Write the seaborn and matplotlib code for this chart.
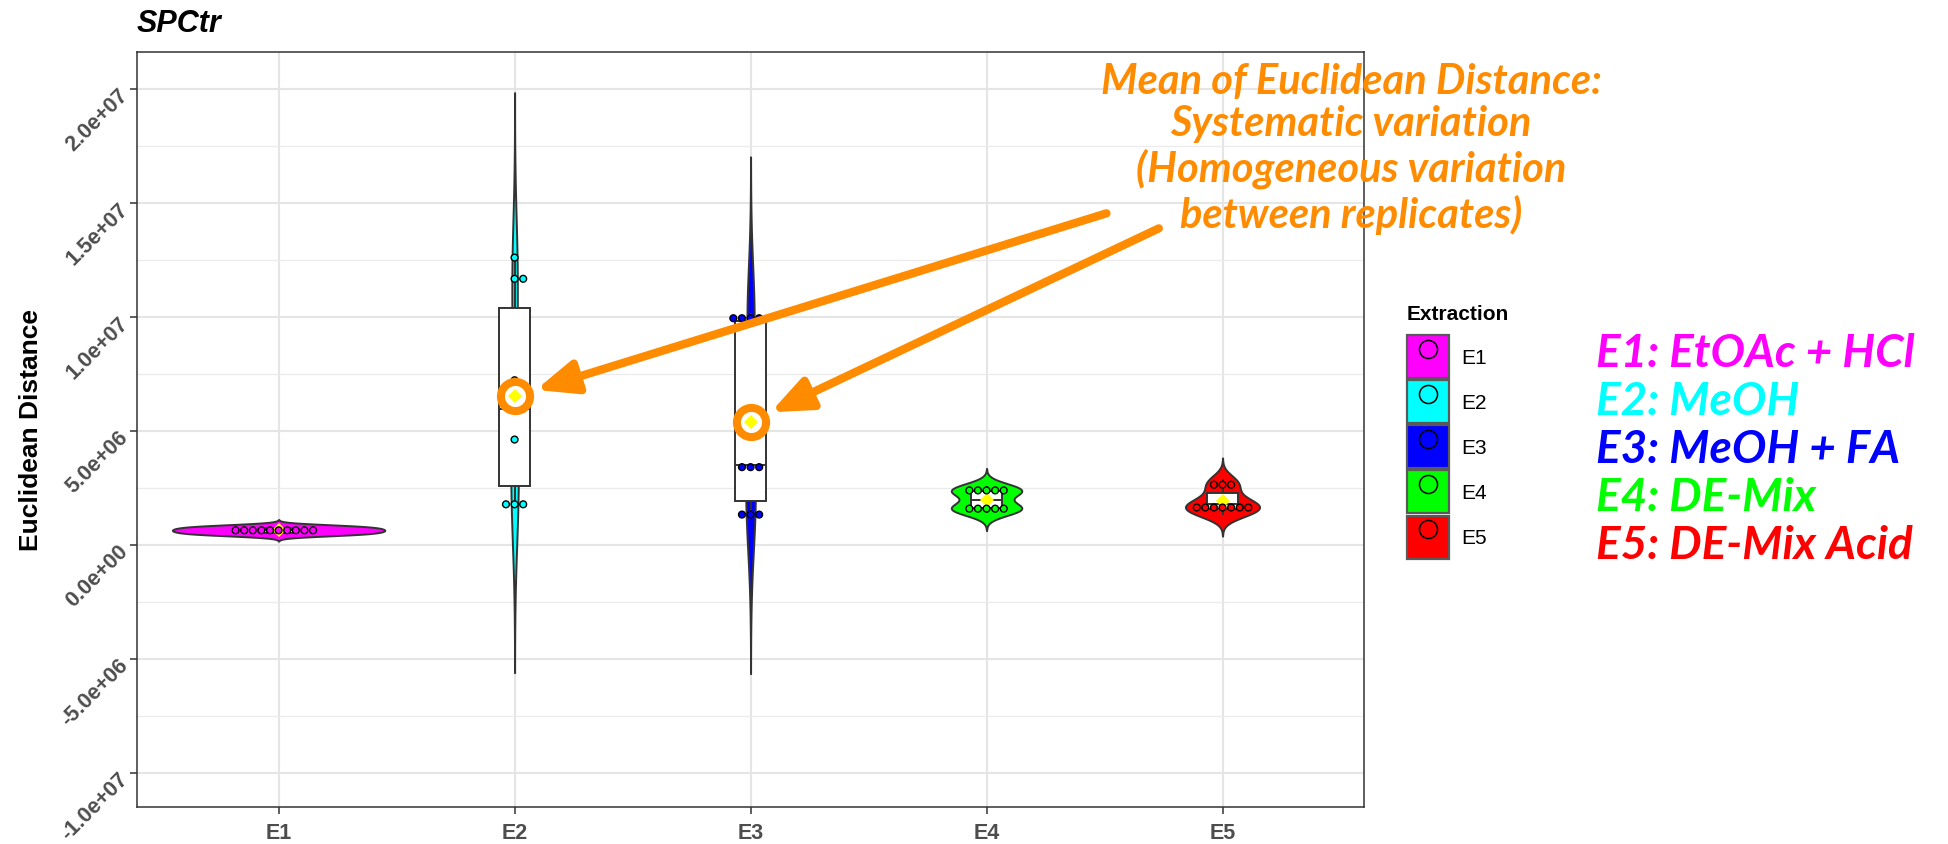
import numpy as np
import pandas as pd
import matplotlib
matplotlib.use("Agg")
import matplotlib.pyplot as plt
import seaborn as sns
from matplotlib.patches import Patch
from matplotlib.lines import Line2D
from matplotlib.legend_handler import HandlerTuple
from matplotlib.ticker import MultipleLocator, FuncFormatter

extraction = ["E1", "E2", "E3", "E4", "E5"]
colors = ["#FF00FF", "#00FFFF", "#0000FF", "#00FF00", "#FF0000"]
solvents = ["E1: EtOAc + HCl", "E2: MeOH", "E3: MeOH + FA", "E4: DE-Mix", "E5: DE-Mix Acid"]
highlighted = ["E2", "E3"]

# Euclidean distance of each replicate (10 per extraction)
e1 = [4.4e5, 4.9e5, 5.4e5, 5.9e5, 6.4e5, 6.8e5, 7.3e5, 7.8e5, 8.3e5, 8.8e5]
e2 = [1.65e6, 1.80e6, 1.95e6, 4.64e6, 5.90e6, 6.10e6, 7.24e6, 1.145e7, 1.193e7, 1.262e7]
e3 = [1.20e6, 1.35e6, 1.50e6, 3.20e6, 3.43e6, 3.66e6, 9.71e6, 9.90e6, 1.005e7, 1.021e7]
e4 = [1.41e6, 1.51e6, 1.61e6, 1.71e6, 1.81e6, 2.21e6, 2.31e6, 2.41e6, 2.51e6, 2.61e6]
e5 = [1.32e6, 1.44e6, 1.56e6, 1.66e6, 1.76e6, 1.88e6, 2.00e6, 2.40e6, 2.66e6, 2.92e6]

ORANGE = "#FF8C00"
DOT_BINWIDTH = 7e5


def dot_bins(values, binwidth):
    # greedy "dotdensity" binning, like ggplot's geom_dotplot
    vals = np.sort(np.asarray(values, dtype=float))
    out = []
    i = 0
    while i < len(vals):
        j = i
        while j < len(vals) and vals[j] < vals[i] + binwidth:
            j += 1
        out += [(vals[i] + vals[j - 1]) / 2] * (j - i)
        i = j
    return out


rows = []
for name, vals in zip(extraction, [e1, e2, e3, e4, e5]):
    for v, d in zip(sorted(vals), dot_bins(vals, DOT_BINWIDTH)):
        rows.append({"Extraction": name, "distance": v, "dot": d})
df = pd.DataFrame(rows)
means = df.groupby("Extraction")["distance"].mean()

plt.rcParams["font.family"] = "Liberation Sans"

fig = plt.figure(figsize=(19.49, 8.45), dpi=100)
ax = fig.add_axes([0.0703, 0.0438, 0.6296, 0.8935])

# bandwidth factor following R's bw.nrd0 rule
bw = 0.9 * len(e1) ** -0.2

sns.violinplot(data=df, x="Extraction", y="distance", hue="Extraction",
               order=extraction, hue_order=extraction, palette=colors,
               saturation=1, inner=None, cut=3, bw_method=bw,
               density_norm="area", common_norm=True, width=0.9,
               linewidth=1.4, linecolor="#333333", legend=False, ax=ax)
sns.boxplot(data=df, x="Extraction", y="distance", order=extraction,
            width=0.13, color="white", linecolor="#333333", linewidth=1.4,
            showfliers=False, showcaps=False, ax=ax)
sns.pointplot(data=df, x="Extraction", y="distance", order=extraction,
              estimator="mean", errorbar=None, color="yellow", markers="D",
              linestyle="none", markersize=6.8, markeredgewidth=0,
              zorder=4, ax=ax)
sns.swarmplot(data=df, x="Extraction", y="dot", hue="Extraction",
              order=extraction, hue_order=extraction, palette=colors,
              size=4.9, edgecolor="black", linewidth=1.0, legend=False,
              zorder=5, ax=ax)

hl = df[df["Extraction"].isin(highlighted)]
sns.pointplot(data=hl, x="Extraction", y="distance", order=extraction,
              estimator="mean", errorbar=None, color="white", markers="o",
              linestyle="none", markersize=21, markeredgecolor=ORANGE,
              markeredgewidth=5.8, zorder=6, ax=ax)
sns.pointplot(data=hl, x="Extraction", y="distance", order=extraction,
              estimator="mean", errorbar=None, color="yellow", markers="D",
              linestyle="none", markersize=6.8, markeredgewidth=0,
              zorder=7, ax=ax)

# axes styling (ggplot theme_bw look)
ax.set_xlim(-0.6, 4.6)
ax.set_ylim(-1.1473e7, 2.1636e7)
ax.yaxis.set_major_locator(MultipleLocator(5e6))
ax.yaxis.set_minor_locator(MultipleLocator(2.5e6))
ax.yaxis.set_major_formatter(FuncFormatter(lambda v, p: f"{v:.1e}"))
ax.set_axisbelow(True)
ax.grid(which="major", color="#E5E5E5", linewidth=1.5)
ax.grid(which="minor", axis="y", color="#EBEBEB", linewidth=0.9)
ax.tick_params(which="minor", length=0)
ax.tick_params(which="major", length=5, width=1.1, color="#333333",
               labelsize=15.5, labelcolor="#4D4D4D")
ax.tick_params(axis="y", labelrotation=45, pad=5)
ax.tick_params(axis="x", pad=6)
for lab in ax.get_yticklabels():
    lab.set_fontweight("bold")
    lab.set_ha("right")
    lab.set_rotation_mode("anchor")
for lab in ax.get_xticklabels():
    lab.set_fontweight("bold")
for sp in ax.spines.values():
    sp.set_color("#333333")
    sp.set_linewidth(1.1)

ax.set_xlabel("")
ax.set_ylabel("Euclidean Distance", fontsize=19, fontweight="bold")
ax.yaxis.set_label_coords(-0.077, 0.5)
ax.set_title("SPCtr", loc="left", fontsize=22, fontweight="bold",
             style="italic", pad=15)

# arrows pointing at the highlighted means
arrow = dict(arrowstyle="-|>,head_length=1.2,head_width=0.5", color=ORANGE,
             lw=6, shrinkA=0, shrinkB=16, mutation_scale=20)
ax.annotate("", xy=(1, means["E2"]), xytext=(3.508, 1.456e7),
            arrowprops=arrow, zorder=8)
ax.annotate("", xy=(2, means["E3"]), xytext=(3.73, 1.39e7),
            arrowprops=arrow, zorder=8)

fig.text(0.6933, 0.926,
         "Mean of Euclidean Distance:\nSystematic variation\n"
         "(Homogeneous variation\nbetween replicates)",
         ha="center", va="top", color=ORANGE, fontsize=30, style="italic",
         fontweight="bold", family="Lato", linespacing=1.16)

# legend
handles = [(Patch(facecolor=c, edgecolor="#595959", linewidth=1.6),
            Line2D([], [], marker="o", linestyle="none", markersize=13,
                   markerfacecolor="none", markeredgecolor="black",
                   markeredgewidth=1.1))
           for c in colors]
leg = fig.legend(handles, extraction, title="Extraction", loc="upper left",
                 bbox_to_anchor=(0.7219, 0.639), frameon=False,
                 fontsize=15, handlelength=2.0, handleheight=2.8,
                 labelspacing=0.1, handletextpad=0.6, borderpad=0,
                 borderaxespad=0, alignment="left",
                 handler_map={tuple: HandlerTuple(ndivide=1, pad=0)})
leg.get_title().set_fontweight("bold")
leg.get_title().set_fontsize(15)
leg._legend_box.sep = 8.7

for i, (txt, c) in enumerate(zip(solvents, colors)):
    fig.text(0.819, 0.581 - i * 0.0567, txt, ha="left", va="center",
             color=c, fontsize=33, fontweight="bold", style="italic",
             family="Lato")

fig.savefig("out.png", dpi=100)
